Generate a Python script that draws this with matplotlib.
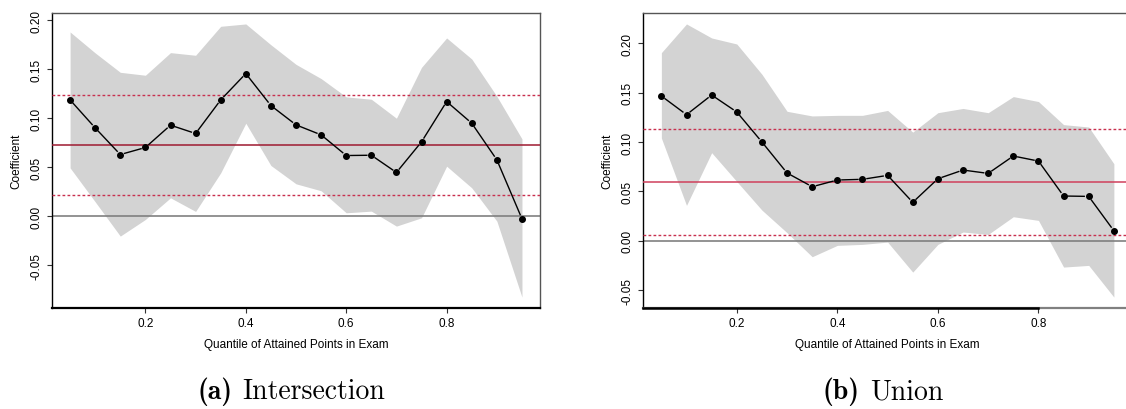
import numpy as np
import matplotlib
matplotlib.use('Agg')
import matplotlib.pyplot as plt

plt.rcParams['font.family'] = ['Liberation Sans', 'DejaVu Sans']

quantiles = [0.05, 0.10, 0.15, 0.20, 0.25, 0.30, 0.35, 0.40, 0.45, 0.50,
             0.55, 0.60, 0.65, 0.70, 0.75, 0.80, 0.85, 0.90, 0.95]

# intersection sample
inter_coef = [0.1187, 0.0901, 0.0629, 0.0701, 0.0929, 0.0844, 0.1187, 0.1456, 0.1129, 0.0932,
              0.0830, 0.0619, 0.0622, 0.0446, 0.0759, 0.1170, 0.0949, 0.0575, -0.0027]
inter_upper = [0.1881, 0.1667, 0.1469, 0.1439, 0.1670, 0.1643, 0.1939, 0.1963, 0.1750, 0.1550,
               0.1405, 0.1218, 0.1194, 0.1000, 0.1520, 0.1820, 0.1605, 0.1224, 0.0789]
inter_lower = [0.0493, 0.0146, -0.0204, -0.0034, 0.0187, 0.0048, 0.0442, 0.0949, 0.0517, 0.0330,
               0.0259, 0.0034, 0.0051, -0.0102, -0.0017, 0.0510, 0.0289, -0.0051, -0.0827]
inter_ols = 0.0724
inter_ols_ci = [0.0218, 0.1235]

# union sample
union_coef = [0.1466, 0.1277, 0.1476, 0.1304, 0.1000, 0.0686, 0.0547, 0.0615, 0.0622, 0.0662,
              0.0389, 0.0628, 0.0716, 0.0682, 0.0858, 0.0807, 0.0453, 0.0449, 0.0101]
union_upper = [0.1905, 0.2196, 0.2054, 0.1993, 0.1686, 0.1311, 0.1264, 0.1270, 0.1270, 0.1320,
               0.1100, 0.1297, 0.1340, 0.1297, 0.1460, 0.1410, 0.1176, 0.1152, 0.0780]
union_lower = [0.1040, 0.0358, 0.0892, 0.0600, 0.0310, 0.0081, -0.0162, -0.0047, -0.0037, -0.0014,
               -0.0318, -0.0037, 0.0088, 0.0064, 0.0243, 0.0206, -0.0267, -0.0250, -0.0571]
union_ols = 0.0595
union_ols_ci = [0.0061, 0.1128]

yticks = [-0.05, 0.00, 0.05, 0.10, 0.15, 0.20]
band_col = '#d3d3d3'
dash_col = '#c8304f'


def r_limits(vals):
    # R style 4% padding on the data range
    lo, hi = min(vals), max(vals)
    pad = 0.04 * (hi - lo)
    return lo - pad, hi + pad


def gapped_line(ax, x, y, gap=4.5):
    # segments stop short of the points, like R's type = "b"
    pts = ax.transData.transform(np.column_stack([x, y]))
    inv = ax.transData.inverted()
    for p0, p1 in zip(pts[:-1], pts[1:]):
        d = p1 - p0
        n = np.hypot(*d)
        if n <= 2 * gap:
            continue
        u = d / n
        a = inv.transform(p0 + u * gap)
        b = inv.transform(p1 - u * gap)
        ax.plot([a[0], b[0]], [a[1], b[1]], color='black', lw=1.0, zorder=4)


def caption(fig, xc, y, tag, name, size=20, space=0.009):
    # bold tag + roman name, centred as one line
    r = fig.canvas.get_renderer()
    t1 = fig.text(0, y, tag, family='cmb10', fontsize=size, ha='left', va='center')
    t2 = fig.text(0, y, name, family='cmr10', fontsize=size, ha='left', va='center')
    w1 = t1.get_window_extent(r).width / fig.bbox.width
    w2 = t2.get_window_extent(r).width / fig.bbox.width
    x0 = xc - (w1 + w2 + space) / 2
    t1.set_x(x0)
    t2.set_x(x0 + w1 + space)


def panel(ax, coef, upper, lower, ols, ols_ci, ols_col, bottom_stop=None):
    ax.set_xlim(*r_limits(quantiles))
    ax.set_ylim(*r_limits(upper + lower))
    ax.fill_between(quantiles, lower, upper, color=band_col, lw=0, zorder=1)
    ax.axhline(0, color='#808080', lw=1.2, zorder=2)
    ax.axhline(ols, color=ols_col, lw=1.1, zorder=3)
    for c in ols_ci:
        ax.axhline(c, color=dash_col, lw=1.0, ls=(0, (2, 1.6)), zorder=3)
    gapped_line(ax, quantiles, coef)
    ax.plot(quantiles, coef, 'o', color='black', ms=4.0, zorder=5)

    ax.set_xticks([0.2, 0.4, 0.6, 0.8], labels=['0.2', '0.4', '0.6', '0.8'])
    ax.set_yticks(yticks, labels=['%.2f' % t for t in yticks])
    ax.tick_params(length=3.6, width=0.8, pad=3.2, labelsize=8.5, color='#333333')
    for lab in ax.get_yticklabels():
        lab.set_rotation(90)
        lab.set_va('center')
    ax.set_xlabel('Quantile of Attained Points in Exam', fontsize=8.5, labelpad=6)
    ax.set_ylabel('Coefficient', fontsize=8.5, labelpad=6)

    for s in ['top', 'right']:
        ax.spines[s].set_color('#555555')
        ax.spines[s].set_linewidth(1.0)
    ax.spines['left'].set_color('black')
    ax.spines['left'].set_linewidth(1.0)
    ax.spines['bottom'].set_linewidth(1.6)
    if bottom_stop is None:
        ax.spines['bottom'].set_color('black')
    else:
        ax.spines['bottom'].set_color('#808080')
        x0, x1 = ax.get_xlim()
        ax.plot([0, (bottom_stop - x0) / (x1 - x0)], [0, 0],
                transform=ax.transAxes, color='black', lw=1.8, clip_on=False, zorder=6)


fig = plt.figure(figsize=(11.26, 4.10), dpi=100)
ax1 = fig.add_axes([0.0462, 0.2463, 0.4334, 0.7195])
ax2 = fig.add_axes([0.5713, 0.2463, 0.4340, 0.7195])

panel(ax1, inter_coef, inter_upper, inter_lower, inter_ols, inter_ols_ci, '#9e1a30')
panel(ax2, union_coef, union_upper, union_lower, union_ols, union_ols_ci, '#d0405c', bottom_stop=0.8)

caption(fig, 291.5 / 1126, 1 - 392 / 410, '(a)', 'Intersection')
caption(fig, 883 / 1126, 1 - 392 / 410, '(b)', 'Union')

fig.savefig('out.png', dpi=100)
